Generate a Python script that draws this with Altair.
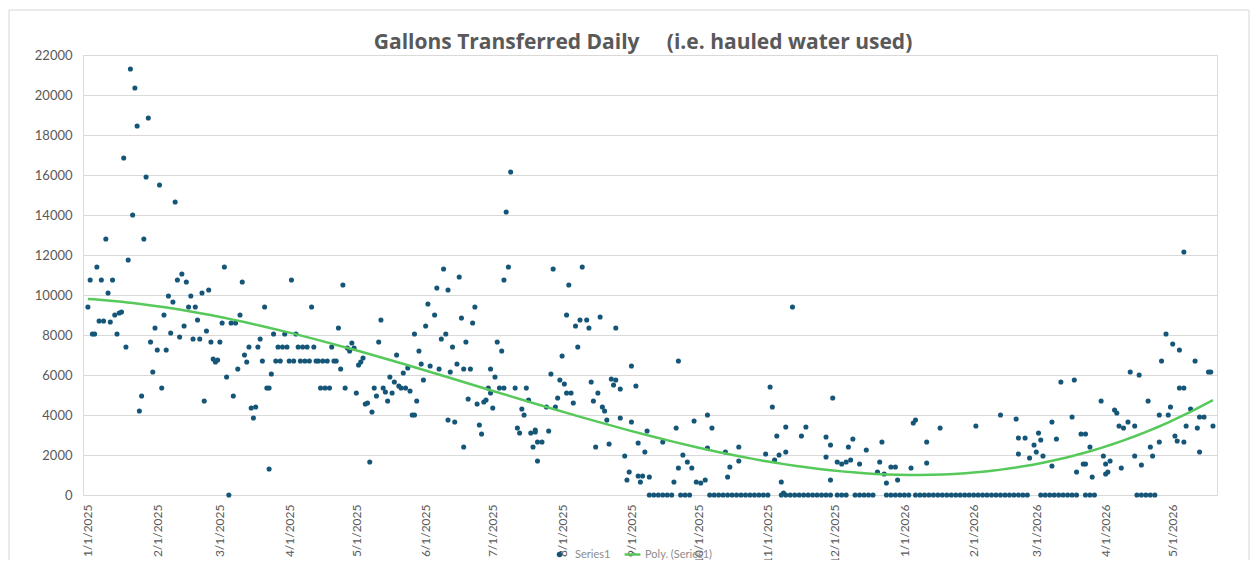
import altair as alt
import pandas as pd

# Daily readings: (day offset from 1/1/2025, gallons transferred)
jan_2025 = [(0, 9400), (1, 10750), (2, 8050), (3, 8050), (4, 11400), (5, 8700), (6, 10750), (7, 8700),
            (8, 12800), (9, 10100), (10, 8650), (11, 10750), (12, 9000), (13, 8050), (14, 9100), (15, 9150),
            (16, 16850), (17, 7400), (18, 11750), (19, 21300), (20, 14000), (21, 20350), (22, 18450),
            (23, 4200), (24, 4950), (25, 12800), (26, 15900), (27, 18850), (28, 7650), (29, 6150), (30, 8350)]
feb_2025 = [(31, 7250), (32, 15500), (33, 5350), (34, 9000), (35, 7250), (36, 9950), (37, 8100), (38, 9650),
            (39, 14650), (40, 10750), (41, 7900), (42, 11050), (43, 8450), (44, 10650), (45, 9400), (46, 9950),
            (47, 7800), (48, 9400), (49, 8750), (50, 7800), (51, 10100), (52, 4700), (53, 8200), (54, 10250),
            (55, 7650), (56, 6800), (57, 6650), (58, 6750)]
mar_2025 = [(59, 7650), (60, 8600), (61, 11400), (62, 5900), (63, 0), (64, 8600), (65, 4950), (66, 8600),
            (67, 6300), (68, 9000), (69, 10650), (70, 7000), (71, 6650), (72, 7400), (73, 4350), (74, 3850),
            (75, 4400), (76, 7400), (77, 7800), (78, 6700), (79, 9400), (80, 5350), (81, 1300), (81, 5350),
            (82, 6050), (83, 8050), (84, 6700), (85, 7400), (86, 6700), (87, 7400), (88, 8050), (89, 7400)]
apr_2025 = [(90, 6700), (91, 10750), (92, 6700), (93, 8050), (94, 7400), (95, 6700), (96, 7400), (97, 6700),
            (98, 7400), (99, 6700), (100, 9400), (101, 7400), (102, 6700), (103, 6700), (104, 5350), (105, 6700),
            (106, 5350), (107, 6700), (108, 5350), (109, 7400), (110, 6700), (111, 6700), (112, 8350),
            (113, 6300), (114, 10500), (115, 5350), (116, 7350), (117, 7200), (118, 7600), (119, 7350)]
may_2025 = [(120, 5100), (121, 6500), (122, 6650), (123, 6850), (124, 4550), (125, 4600), (126, 1650),
            (127, 4150), (128, 5350), (129, 4950), (130, 7650), (131, 8750), (132, 5350), (133, 5150),
            (134, 4700), (135, 5900), (136, 5100), (137, 5650), (138, 7000), (139, 5450), (140, 5350),
            (141, 6100), (142, 5350), (143, 6350), (144, 5200), (145, 4000), (146, 8050), (146, 4000),
            (147, 4700), (148, 7200), (149, 6550), (150, 5750)]
jun_2025 = [(151, 8450), (152, 9550), (153, 6450), (155, 9000), (156, 10350), (157, 6300), (158, 7800),
            (159, 11300), (160, 8050), (161, 10250), (161, 3750), (162, 6150), (163, 7400), (164, 3650),
            (165, 6550), (166, 10900), (167, 8850), (168, 2400), (168, 6300), (169, 7650), (170, 4800),
            (171, 6300), (172, 8600), (173, 9400), (174, 4550), (175, 3500), (176, 3050), (177, 4650),
            (178, 4750), (179, 5350), (180, 6300), (180, 5100)]
jul_2025 = [(181, 4350), (182, 5900), (183, 7650), (184, 5350), (185, 7200), (186, 10750), (186, 5350),
            (187, 14150), (188, 11400), (189, 16150), (191, 5350), (192, 3350), (193, 3100), (194, 4300),
            (195, 4000), (196, 5350), (197, 4750), (198, 3100), (199, 2400), (200, 3250), (200, 3150),
            (201, 2650), (201, 1700), (203, 2650), (205, 4400), (206, 3200), (207, 6050), (208, 11300),
            (209, 4400), (210, 4850), (211, 5750)]
aug_2025 = [(212, 6950), (213, 5550), (214, 9000), (214, 5100), (215, 10500), (216, 5100), (217, 4600),
            (218, 8450), (219, 7400), (220, 8750), (221, 11400), (223, 8750), (224, 8350), (225, 5650),
            (226, 4700), (227, 2400), (228, 5100), (229, 8900), (230, 4400), (231, 4200), (232, 3750),
            (233, 2550), (234, 5800), (235, 5500), (236, 8350), (236, 5750), (238, 5300), (238, 3850),
            (240, 1950), (241, 750), (242, 1150)]
sep_2025 = [(243, 6450), (243, 3650), (245, 5450), (246, 2600), (246, 950), (247, 650), (248, 950),
            (249, 2150), (250, 3200), (251, 900), (257, 2650), (262, 650), (263, 3350), (264, 6700),
            (264, 1350), (266, 2000), (268, 1650), (270, 1350), (271, 3700), (272, 650)]
oct_2025 = [(274, 600), (276, 750), (277, 4000), (277, 2350), (279, 3350), (285, 2150), (286, 900),
            (287, 1400), (291, 2400), (291, 1700), (303, 2050)]
nov_2025 = [(305, 5400), (306, 4400), (307, 1750), (308, 2950), (309, 2000), (310, 650), (311, 100),
            (312, 3400), (312, 2150), (315, 9400), (319, 2950), (321, 3400), (330, 2900), (330, 1900),
            (332, 2500), (332, 750), (333, 4850)]
dec_2025 = [(335, 1650), (337, 1550), (339, 1650), (340, 2400), (341, 1750), (342, 2800), (345, 1550),
            (348, 2250), (353, 1150), (354, 1650), (355, 2650), (356, 1050), (357, 600), (359, 1400),
            (361, 1400), (362, 750), (368, 1350)]
jan_2026 = [(369, 3600), (370, 3750), (375, 2650), (375, 1600), (381, 3350)]
feb_2026 = [(397, 3450), (408, 4000), (415, 3800), (416, 2850), (416, 2050), (419, 2850), (421, 1850),
            (423, 2500)]
mar_2026 = [(424, 2150), (425, 3100), (426, 2750), (427, 1950), (431, 3650), (431, 1450), (433, 2800),
            (435, 5650), (440, 3900), (441, 5750), (442, 1150), (444, 3050), (445, 1550), (446, 3050),
            (446, 1550), (448, 2400), (449, 900), (453, 4700), (454, 1950)]
apr_2026 = [(455, 1550), (455, 1050), (456, 1150), (457, 1700), (459, 4250), (460, 4100), (461, 3450),
            (462, 1350), (463, 3350), (465, 3650), (466, 6150), (468, 3450), (468, 1950), (470, 6000),
            (471, 1500), (474, 4700), (475, 2400), (476, 1950), (479, 4000), (479, 2650), (480, 6700),
            (482, 8050), (483, 4000), (484, 4400)]
may_2026 = [(485, 7550), (486, 2950), (487, 2700), (488, 7250), (488, 5350), (490, 5350), (490, 2650),
            (490, 12150), (491, 3450), (493, 4300), (495, 6700), (496, 3350), (497, 3900), (497, 2150),
            (499, 3900), (501, 6150), (502, 6150), (503, 3450)]

# Days with zero gallons (the overlapping dots along the bottom row)
zero_days_2025 = [251, 253, 255, 257, 259, 261, 265, 267, 269,
                  278, 280, 282, 284, 286, 288, 290, 292, 294, 296, 298, 300, 302, 304,
                  310, 312, 314, 316, 318, 320, 322, 324, 326, 328, 330, 332,
                  335, 337, 339, 343, 345, 347, 349, 351, 357, 359, 361, 363]
zero_days_2026 = [365, 367, 370, 372, 374, 376, 378, 380, 382, 384, 386, 388, 390, 392, 394, 396,
                  398, 400, 402, 404, 406, 408, 410, 412, 414, 416, 418, 420,
                  426, 428, 430, 432, 434, 436, 438, 440, 442, 446, 448, 450,
                  469, 471, 473, 475, 477]

# Month-start tick labels
month_ticks = [(2025, 1), (2025, 2), (2025, 3), (2025, 4), (2025, 5), (2025, 6), (2025, 7), (2025, 8),
               (2025, 9), (2025, 10), (2025, 11), (2025, 12), (2026, 1), (2026, 2), (2026, 3), (2026, 4),
               (2026, 5)]

TITLE = "Gallons Transferred Daily\u00a0\u00a0\u00a0\u00a0 (i.e. hauled water used)"

rows = []
for part in (jan_2025, feb_2025, mar_2025, apr_2025, may_2025, jun_2025, jul_2025, aug_2025, sep_2025,
             oct_2025, nov_2025, dec_2025, jan_2026, feb_2026, mar_2026, apr_2026, may_2026):
    rows.extend(part)
for d in zero_days_2025 + zero_days_2026:
    rows.append((d, 0))
df = pd.DataFrame(rows, columns=["d", "v"])

TCALC = "time(datetime(2025, 0, 1)) + datum.d * 86400000"
GRAY = "#595959"
FONT = "Lato"

x_scale = alt.Scale(domain=[alt.DateTime(year=2024, month=12, date=29, hours=19, minutes=12),
                            alt.DateTime(year=2026, month=5, date=20, hours=19, minutes=12)])
y_scale = alt.Scale(domain=[0, 22000], nice=False)


def x_axis():
    return alt.Axis(values=[alt.DateTime(year=y, month=m, date=1) for y, m in month_ticks],
                    format="%-m/%-d/%Y", labelAngle=-90, labelFontSize=12, labelFont=FONT,
                    labelColor=GRAY, labelPadding=9, ticks=False, domain=False, grid=False,
                    title=None, labelOverlap=False)


def y_axis():
    return alt.Axis(values=list(range(0, 22001, 2000)), format="d", labelFontSize=13, labelFont=FONT,
                    labelColor=GRAY, labelPadding=11, ticks=False, domain=False, grid=True,
                    gridColor="#d9d9d9", gridWidth=1, title=None)


border = alt.Chart(pd.DataFrame({"k": [0]})).mark_rect(
    fill="transparent", stroke="#d6d6d6", strokeWidth=1
).encode(x=alt.value(-74), x2=alt.value(1166), y=alt.value(-45), y2=alt.value(520))

points = alt.Chart(df).transform_calculate(t=TCALC, s1="'Series1'").mark_circle(
    size=26, opacity=1
).encode(
    x=alt.X("t:T", scale=x_scale, axis=x_axis()),
    y=alt.Y("v:Q", scale=y_scale, axis=y_axis()),
    color=alt.Color("s1:N", scale=alt.Scale(domain=["Series1"], range=["#155678"]),
                    legend=alt.Legend(orient="none", legendX=471, legendY=494, title=None,
                                      labelFontSize=11, labelFont=FONT, labelColor="#8c8c8c",
                                      symbolType="circle", symbolSize=30, labelOffset=10)),
)

trend = alt.Chart(df).transform_regression("d", "v", method="poly", order=3).transform_calculate(
    t=TCALC, s2="'Poly. (Series1)'"
).mark_line(strokeWidth=2.5).encode(
    x=alt.X("t:T", scale=x_scale, axis=x_axis()),
    y=alt.Y("v:Q", scale=y_scale, axis=y_axis()),
    color=alt.Color("s2:N", scale=alt.Scale(domain=["Poly. (Series1)"], range=["#56c95a"]),
                    legend=alt.Legend(orient="none", legendX=540, legendY=490, title=None,
                                      labelFontSize=11, labelFont=FONT, labelColor="#8c8c8c",
                                      symbolType="stroke", symbolSize=250, symbolStrokeWidth=2.5,
                                      labelOffset=3)),
)

chart = alt.layer(points, trend, border).resolve_scale(color="independent").properties(
    width=1134, height=440,
    padding={"left": 75, "top": 47, "right": 34, "bottom": 65},
    autosize=alt.AutoSizeParams(type="none"),
    title=alt.TitleParams(text=TITLE, anchor="middle", frame="group", offset=-43, dx=-7,
                          fontSize=21, font="Open Sans", fontWeight="bold", color=GRAY),
).configure_view(stroke="transparent").configure(background="white")

chart.save("out.html", embed_options={"renderer": "svg", "actions": False})
